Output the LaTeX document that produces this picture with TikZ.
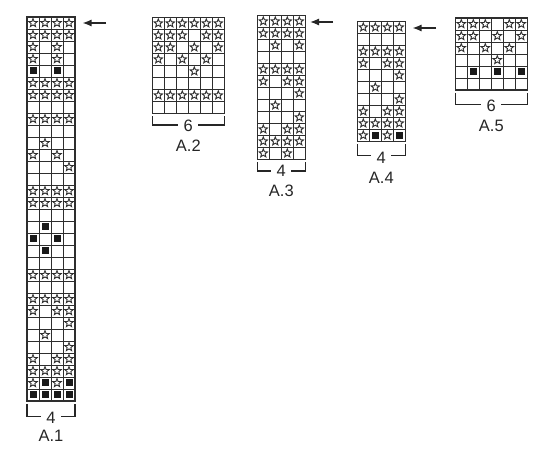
\documentclass[tikz,border=0pt]{standalone}
\usepackage{fontspec}
\setmainfont{Liberation Sans}
\usetikzlibrary{arrows.meta}
\definecolor{gridc}{HTML}{2E2E2E}
\definecolor{starc}{HTML}{2E2E2E}
\tikzset{
  cell/.style={draw=gridc, line width=0.9pt},
  outerbox/.style={draw=gridc, line width=1.2pt},
  starline/.style={draw=starc, line width=0.9pt, line join=miter},
  blk/.style={fill=black!90},
  brk/.style={draw=black!85, line width=1.3pt},
  lbl/.style={font=\fontsize{16.5}{19}\selectfont, inner sep=0pt, text=black!85},
  rowarrow/.style={draw=black!85, line width=1.3pt, -{Latex[length=9pt,width=7pt]}},
}
% #1 left, #2 top, #3 ncols, #4 nrows, #5 rows
\newcommand\chartgrid[5]{%
  \foreach \rowv [count=\r] in {#5} {
    \foreach \v [count=\k] in \rowv {
      \pgfmathsetmacro\cx{#1+(\k-1)*12}
      \pgfmathsetmacro\cy{#2+(\r-1)*12}
      \draw[cell] (\cx,\cy) rectangle ++(12,12);
      \ifnum\v=1\relax
        \draw[starline,shift={(\cx+6,\cy+6)}] (-90:4.4) -- (-54:1.9) -- (-18:4.4) -- (18:1.9) -- (54:4.4) -- (90:1.9) -- (126:4.4) -- (162:1.9) -- (198:4.4) -- (234:1.9) -- cycle;
      \fi
      \ifnum\v=2\relax
        \fill[blk] (\cx+2.5,\cy+2.5) rectangle ++(7,7);
      \fi
    }
  }
  \draw[outerbox] (#1,#2) rectangle ({#1+#3*12},{#2+#4*12});
}
% #1 name, #2 L, #3 R, #4 bottom, #5 lineY, #6 numY, #7 number, #8 lblY, #9 label
\newcommand\chartlabel[9]{%
  \node[lbl] (#1num) at ({(#2+#3)/2},#6) {#7};
  \node[lbl] (#1name) at ({(#2+#3)/2},#8) {#9};
  \draw[brk] (#2,#4+3) -- (#2,#5) -- ({(#2+#3)/2-10},#5);
  \draw[brk] ({(#2+#3)/2+10},#5) -- (#3,#5) -- (#3,#4+3);
}
\begin{document}
\begin{tikzpicture}[x=1pt,y=-1pt]
\useasboundingbox (0,0) rectangle (550,462);
\fill[white] (0,0) rectangle (550,462);

% A.1
\chartgrid{27}{17}{4}{32}{{1,1,1,1},{1,1,1,1},{1,0,1,0},{1,0,1,0},{2,0,2,0},{1,1,1,1},{1,1,1,1},{0,0,0,0},{1,1,1,1},{0,0,0,0},{0,1,0,0},{1,0,1,0},{0,0,0,1},{0,0,0,0},{1,1,1,1},{1,1,1,1},{0,0,0,0},{0,2,0,0},{2,0,2,0},{0,2,0,0},{0,0,0,0},{1,1,1,1},{0,0,0,0},{1,1,1,1},{1,0,1,1},{0,0,0,1},{0,1,0,0},{0,0,0,1},{1,0,1,1},{1,1,1,1},{1,2,1,2},{2,2,2,2}}
\chartlabel{a1}{27}{75}{401}{416.5}{417.5}{4}{435.5}{A.1}

% A.2
\chartgrid{152.3}{17.3}{6}{8}{{1,1,1,1,1,1},{1,1,1,0,1,1},{1,1,0,1,0,1},{1,0,1,0,1,0},{0,0,0,1,0,0},{0,0,0,0,0,0},{1,1,1,1,1,1},{0,0,0,0,0,0}}
\chartlabel{a2}{152.3}{224.3}{113.3}{125}{126}{6}{146}{A.2}

% A.3
\chartgrid{257.3}{15.3}{4}{12}{{1,1,1,1},{1,1,1,1},{0,1,0,1},{0,0,0,0},{1,1,1,1},{1,0,1,1},{0,0,0,1},{0,1,0,0},{0,0,0,1},{1,0,1,1},{1,1,1,1},{1,0,1,0}}
\chartlabel{a3}{257.3}{305.3}{159.3}{171}{170.5}{4}{190.5}{A.3}

% A.4
\chartgrid{357.3}{21.3}{4}{10}{{1,1,1,1},{0,0,0,0},{1,1,1,1},{1,0,1,1},{0,0,0,1},{0,1,0,0},{0,0,0,1},{1,0,1,1},{1,1,1,1},{1,2,1,2}}
\chartlabel{a4}{357.3}{405.3}{141.3}{155.5}{157.5}{4}{177.5}{A.4}

% A.5
\chartgrid{455.3}{18}{6}{6}{{1,1,1,0,1,1},{1,1,0,1,0,1},{1,0,1,0,1,0},{0,0,0,1,0,0},{0,2,0,2,0,2},{0,0,0,0,0,0}}
\chartlabel{a5}{455.3}{527.3}{90}{104.7}{105.5}{6}{125.5}{A.5}

% row arrows
\coordinate (a1s) at (106,23);
\coordinate (a1e) at (82.5,23);
\draw[rowarrow] (a1s) -- (a1e);
\coordinate (a3s) at (333,22);
\coordinate (a3e) at (310,22);
\draw[rowarrow] (a3s) -- (a3e);
\coordinate (a4s) at (436,28);
\coordinate (a4e) at (412.5,28);
\draw[rowarrow] (a4s) -- (a4e);
\end{tikzpicture}
\end{document}
